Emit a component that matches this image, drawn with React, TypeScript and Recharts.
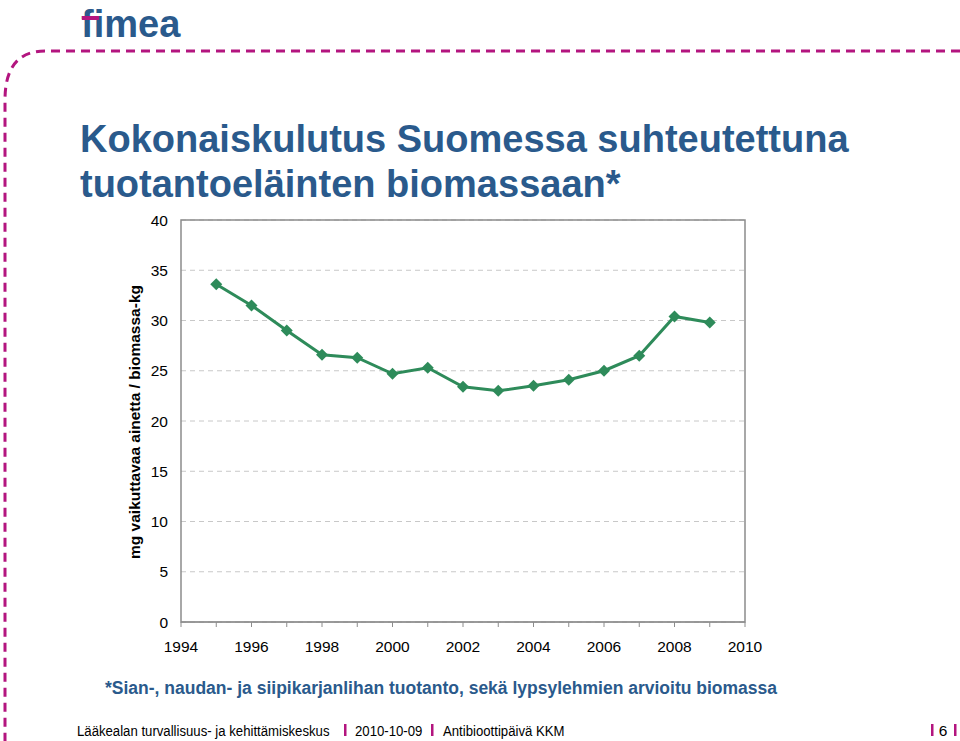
import { LineChart, Line, XAxis, YAxis, CartesianGrid, ReferenceArea } from 'recharts'

const years = [1995, 1996, 1997, 1998, 1999, 2000, 2001, 2002, 2003, 2004, 2005, 2006, 2007, 2008, 2009]
const mgPerKg = [33.6, 31.5, 29.0, 26.6, 26.3, 24.7, 25.3, 23.4, 23.0, 23.5, 24.1, 25.0, 26.5, 30.4, 29.8]
const yearTicks = [1994, 1995, 1996, 1997, 1998, 1999, 2000, 2001, 2002, 2003, 2004, 2005, 2006, 2007, 2008, 2009, 2010]
const valueTicks = [0, 5, 10, 15, 20, 25, 30, 35, 40]

const data = years.map((year, i) => ({ year, value: mgPerKg[i] }))

const BLUE = '#2a5a8c'
const MAGENTA = '#b3157f'
const GREEN = '#2e8b5a'
const FONT = "Arial, 'Liberation Sans', sans-serif"

const Diamond = (props: any) => {
    const { cx, cy } = props
    if (cx == null || cy == null) return null
    const r = 6
    return <polygon points={`${cx},${cy - r} ${cx + r},${cy} ${cx},${cy + r} ${cx - r},${cy}`} fill={GREEN} />
}

const YearTick = (props: any) => {
    const { x, y, payload } = props
    if (payload.value % 2 !== 0) return null
    return (
        <text x={x} y={y} dy="0.71em" textAnchor="middle" fontSize={15.5} fill="#000" fontFamily={FONT}>
            {payload.value}
        </text>
    )
}

// narrow footer text: squeeze horizontally
const Foot = ({ x, children }: { x: number; children: string }) => (
    <text x={0} y={0} transform={`translate(${x} 736) scale(0.85 1)`}>{children}</text>
)

export default function App() {
    return (
        <div style={{ position: 'absolute', left: 0, top: 0, width: 960, height: 741, background: '#fff', overflow: 'hidden', fontFamily: FONT }}>
            <svg width={960} height={741} style={{ position: 'absolute', left: 0, top: 0 }}>
                <path d="M 960 51 H 45 Q 5 51 5 100 V 741" fill="none" stroke={MAGENTA} strokeWidth={3} strokeDasharray="9 6" />
                <text x={81} y={37} fontSize={38} fontWeight="bold" fill={BLUE} fontFamily={FONT}>fimea</text>
                <rect x={82} y={16} width={17} height={4} fill={MAGENTA} />
                <text x={80} y={152} fontSize={38} fontWeight="bold" fill={BLUE}>Kokonaiskulutus Suomessa suhteutettuna</text>
                <text x={80} y={197} fontSize={38} fontWeight="bold" fill={BLUE}>tuotantoeläinten biomassaan*</text>
                <text x={140} y={422} fontSize={15.5} fontWeight="bold" fill="#000" textAnchor="middle" transform="rotate(-90 140 422)">
                    mg vaikuttavaa ainetta / biomassa-kg
                </text>
                <text x={105} y={694} fontSize={17.5} fontWeight="bold" fill={BLUE}>
                    *Sian-, naudan- ja siipikarjanlihan tuotanto, sekä lypsylehmien arvioitu biomassa
                </text>

                <g fontSize={15.5} fill="#000" fontFamily={FONT}>
                    <Foot x={77}>Lääkealan turvallisuus- ja kehittämiskeskus</Foot>
                    <Foot x={355}>2010-10-09</Foot>
                    <Foot x={443}>Antibioottipäivä KKM</Foot>
                    <text x={943} y={736} textAnchor="middle">6</text>
                </g>
                <g fill={MAGENTA}>
                    <rect x={344} y={724} width={2.5} height={12} />
                    <rect x={431} y={724} width={2.5} height={12} />
                    <rect x={931} y={724} width={2.5} height={12} />
                    <rect x={954} y={724} width={2.5} height={12} />
                </g>
            </svg>
            <div style={{ position: 'absolute', left: 0, top: 0 }}>
                <LineChart width={960} height={741} data={data} margin={{ top: 220, right: 215, bottom: 89, left: 141 }}>
                    <CartesianGrid vertical={false} stroke="#c8c8c8" strokeDasharray="5 4" />
                    <ReferenceArea x1={1994} x2={2010} y1={0} y2={40} fill="none" stroke="#8c8c8c" strokeWidth={1.5} ifOverflow="visible" />
                    <XAxis
                        dataKey="year"
                        type="number"
                        domain={[1994, 2010]}
                        ticks={yearTicks}
                        interval={0}
                        height={30}
                        stroke="#8c8c8c"
                        tickSize={5}
                        tickMargin={14}
                        tick={<YearTick />}
                    />
                    <YAxis
                        type="number"
                        domain={[0, 40]}
                        ticks={valueTicks}
                        interval={0}
                        width={40}
                        axisLine={false}
                        tickLine={false}
                        tickMargin={7}
                        tick={{ fontSize: 15.5, fill: '#000', fontFamily: FONT }}
                    />
                    <Line type="linear" dataKey="value" stroke={GREEN} strokeWidth={3} dot={<Diamond />} isAnimationActive={false} />
                </LineChart>
            </div>
        </div>
    )
}
